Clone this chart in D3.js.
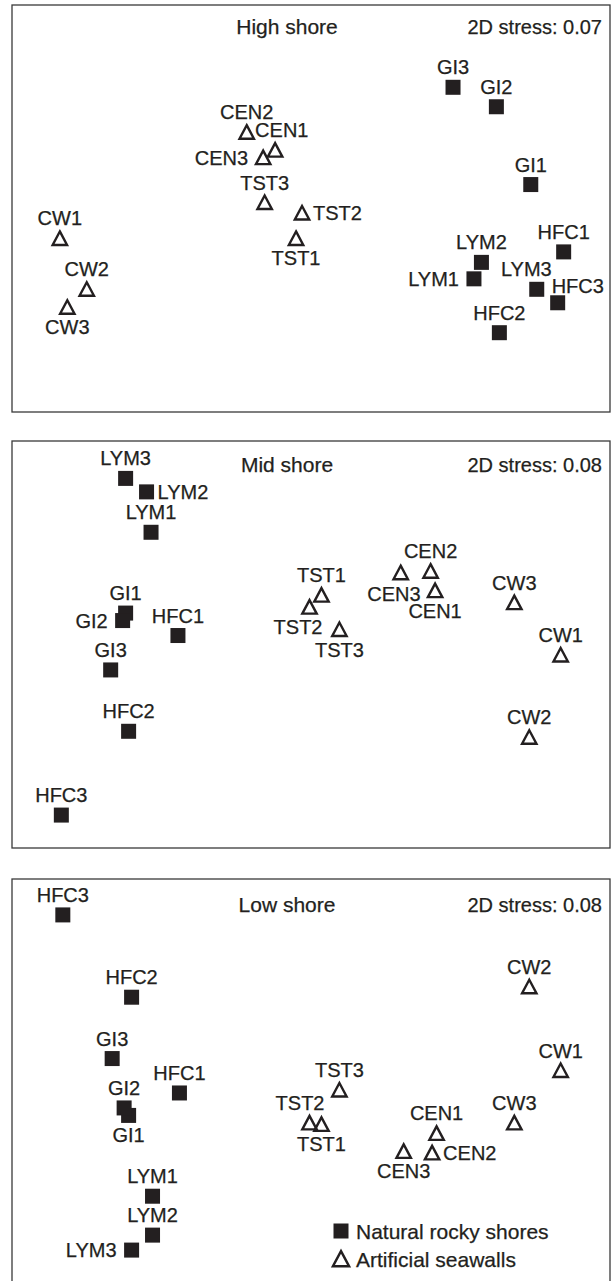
<!DOCTYPE html>
<html>
<head>
<meta charset="utf-8">
<script src="https://cdn.jsdelivr.net/npm/d3@7"></script>
<style>
  html, body { margin: 0; padding: 0; background: #ffffff; }
  svg { display: block; }
  text { font-family: "Liberation Sans", Arial, Helvetica, sans-serif; fill: #231f20; stroke: #231f20; stroke-width: 0.25px; }
</style>
</head>
<body>
<svg id="chart" width="613" height="1281"></svg>
<script>
// ---- data (NMDS ordination coordinates) ----
const sites = ["GI1","GI2","GI3","HFC1","HFC2","HFC3","LYM1","LYM2","LYM3",
               "CEN1","CEN2","CEN3","TST1","TST2","TST3","CW1","CW2","CW3"];
const shoreType = ["Natural","Natural","Natural","Natural","Natural","Natural","Natural","Natural","Natural",
                   "Artificial","Artificial","Artificial","Artificial","Artificial","Artificial","Artificial","Artificial","Artificial"];

const panelTitles = ["High shore", "Mid shore", "Low shore"];
const stressValues = [0.07, 0.08, 0.08];
const legendLabels = ["Natural rocky shores", "Artificial seawalls"];

const highX = [1.47, 1.24, 0.95, 1.69, 1.26, 1.65, 1.09, 1.14, 1.51, -0.24, -0.43, -0.32, -0.10, -0.06, -0.31, -1.68, -1.50, -1.63];
const highY = [0.16, 0.68, 0.81, -0.29, -0.83, -0.63, -0.47, -0.36, -0.54, 0.39, 0.51, 0.34, -0.20, -0.03, 0.04, -0.20, -0.54, -0.66];
const highLabelPos = ["a","a","a","a","a","ar","l","a","ae","as","a","l","b","r","a","a","a","b"];

const midX = [-1.24, -1.26, -1.34, -0.89, -1.22, -1.67, -1.07, -1.10, -1.24, 0.83, 0.80, 0.60, 0.07, -0.01, 0.19, 1.67, 1.46, 1.36];
const midY = [0.21, 0.16, -0.17, 0.06, -0.58, -1.14, 0.75, 1.02, 1.11, 0.36, 0.49, 0.48, 0.33, 0.25, 0.10, -0.07, -0.62, 0.28];
const midLabelPos = ["a","l","a","a","a","a","a","r","a","b","a","bw","a","be","b","a","a","a"];

const lowX = [-1.22, -1.25, -1.33, -0.88, -1.20, -1.66, -1.06, -1.06, -1.20, 0.84, 0.81, 0.62, 0.07, -0.01, 0.19, 1.67, 1.46, 1.36];
const lowY = [-0.22, -0.17, 0.16, -0.07, 0.57, 1.12, -0.76, -1.02, -1.12, -0.34, -0.47, -0.46, -0.28, -0.27, -0.05, 0.08, 0.64, -0.27];
const lowLabelPos = ["b","a","a","a","a","a","a","a","l","a","r","b","b","ae","a","a","a","a"];

// ---- layout ----
const svg = d3.select("#chart");
const ink = "#231f20";
const panelLeft = 12, panelRight = 610, panelH = 407;
const panelTops = [5, 441, 879];
const titleDy = [29, 31, 32.5];

const labelStyle = {
  a:  { anchor: "middle", dx: 0,   dy: -13 },
  b:  { anchor: "middle", dx: 0,   dy: 27 },
  l:  { anchor: "end",    dx: -15, dy: 7 },
  r:  { anchor: "start",  dx: 11,  dy: 7 },
  ar: { anchor: "start",  dx: -6,  dy: -10 },
  ae: { anchor: "end",    dx: 15,  dy: -13 },
  as: { anchor: "start",  dx: -20, dy: -13 },
  be: { anchor: "end",    dx: 13,  dy: 27 },
  bw: { anchor: "end",    dx: 20,  dy: 28 }
};

const triPath = "M0,-7L7.2,6.5L-7.2,6.5Z";
const sq = 15;

const x = d3.scaleLinear().domain([-2, 2]).range([panelLeft, panelRight]);

const panelData = [
  { xs: highX, ys: highY, pos: highLabelPos },
  { xs: midX,  ys: midY,  pos: midLabelPos },
  { xs: lowX,  ys: lowY,  pos: lowLabelPos }
];

panelData.forEach((pd, i) => {
  const top = panelTops[i];
  const y = d3.scaleLinear().domain([-1.36, 1.36]).range([top + panelH, top]);
  const g = svg.append("g");

  g.append("rect")
    .attr("x", panelLeft).attr("y", top)
    .attr("width", panelRight - panelLeft).attr("height", panelH)
    .attr("fill", "none").attr("stroke", "#3a3a3a").attr("stroke-width", 1.3);

  g.append("text")
    .attr("x", 287).attr("y", top + titleDy[i])
    .attr("text-anchor", "middle")
    .style("font-size", "21px")
    .text(panelTitles[i]);

  g.append("text")
    .attr("x", panelRight - 8).attr("y", top + titleDy[i])
    .attr("text-anchor", "end")
    .style("font-size", "20px")
    .text("2D stress: " + d3.format(".2f")(stressValues[i]));

  const pts = sites.map((s, k) => ({ name: s, type: shoreType[k], x: pd.xs[k], y: pd.ys[k], pos: pd.pos[k] }));

  // markers
  g.selectAll("rect.nat").data(pts.filter(d => d.type === "Natural")).enter()
    .append("rect").attr("class", "nat")
    .attr("x", d => x(d.x) - sq / 2).attr("y", d => y(d.y) - sq / 2)
    .attr("width", sq).attr("height", sq)
    .attr("fill", ink);

  g.selectAll("path.art").data(pts.filter(d => d.type === "Artificial")).enter()
    .append("path").attr("class", "art")
    .attr("d", triPath)
    .attr("transform", d => `translate(${x(d.x)},${y(d.y)})`)
    .attr("fill", "none").attr("stroke", ink).attr("stroke-width", 2.4)
    .attr("stroke-linejoin", "miter");

  // labels
  g.selectAll("text.lab").data(pts).enter()
    .append("text").attr("class", "lab")
    .attr("x", d => x(d.x) + labelStyle[d.pos].dx)
    .attr("y", d => y(d.y) + labelStyle[d.pos].dy)
    .attr("text-anchor", d => labelStyle[d.pos].anchor)
    .style("font-size", "20px")
    .text(d => d.name);

  // legend (bottom panel only)
  if (i === 2) {
    const lg = g.append("g").attr("transform", "translate(341,1231)");
    legendLabels.forEach((lab, j) => {
      const row = lg.append("g").attr("transform", `translate(0,${j * 28})`);
      if (j === 0) {
        row.append("rect").attr("x", -sq / 2).attr("y", -sq / 2).attr("width", sq).attr("height", sq).attr("fill", ink);
      } else {
        row.append("path").attr("d", triPath).attr("transform", "scale(1.12)")
          .attr("fill", "none").attr("stroke", ink).attr("stroke-width", 2.2);
      }
      row.append("text").attr("x", 15).attr("y", 7.5)
        .style("font-size", "21px")
        .text(lab);
    });
  }
});
</script>
</body>
</html>
